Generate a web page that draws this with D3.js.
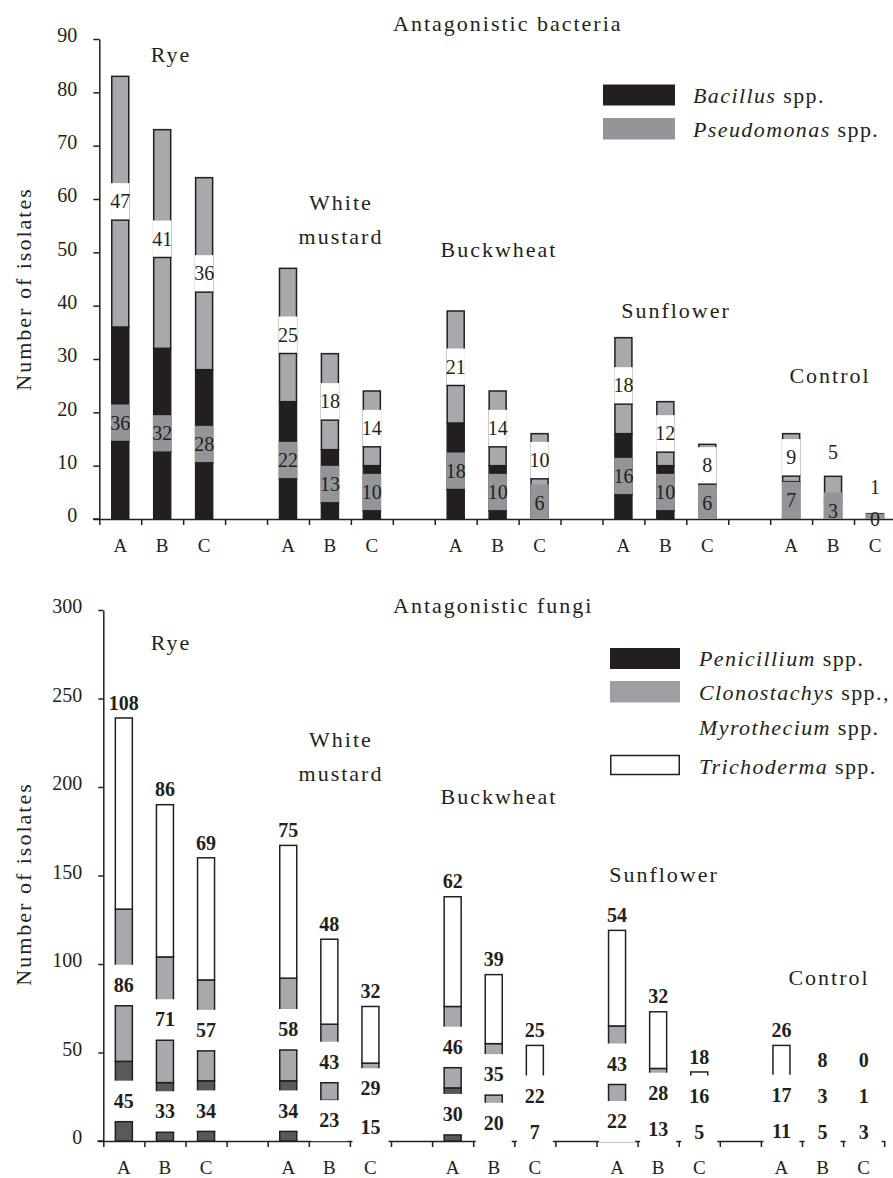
<!DOCTYPE html>
<html>
<head>
<meta charset="utf-8">
<script src="https://cdn.jsdelivr.net/npm/d3@7"></script>
<style>
  body { margin: 0; background: #fff; }
  text { font-family: 'Liberation Serif', 'Times New Roman', serif; fill: #231f20; }
  .big { font-size: 22px; letter-spacing: 2px; }
  .leg { font-size: 22px; letter-spacing: 1.4px; }
  .num { font-size: 20px; }
  .bold { font-weight: bold; }
  .cat { font-size: 19px; }
</style>
</head>
<body>
<div id="chart"></div>
<script>
// data
const groups = ["Rye", "White mustard", "Buckwheat", "Sunflower", "Control"];
const treatments = ["A", "B", "C"];

const bacillus     = [36, 32, 28, 22, 13, 10, 18, 10, 6, 16, 10, 6, 7, 3, 0];
const pseudomonas  = [47, 41, 36, 25, 18, 14, 21, 14, 10, 18, 12, 8, 9, 5, 1];

const penicillium  = [45, 33, 34, 34, 23, 15, 30, 20, 7, 22, 13, 5, 11, 5, 3];
const clonostachys = [86, 71, 57, 58, 43, 29, 46, 35, 22, 43, 28, 16, 17, 3, 1];
const trichoderma  = [108, 86, 69, 75, 48, 32, 62, 39, 25, 54, 32, 18, 26, 8, 0];

const yTicksBacteria = [0, 10, 20, 30, 40, 50, 60, 70, 80, 90];
const yTicksFungi = [0, 50, 100, 150, 200, 250, 300];

const ink = "#231f20";

const svg = d3.select("#chart")
    .append("svg")
    .attr("width", 893)
    .attr("height", 1178);

// one slot per bar, an empty slot between groups
const slots = [];
groups.forEach((g, gi) => {
    treatments.forEach(t => slots.push(g + "|" + t));
    if (gi < groups.length - 1) slots.push(g + "|gap");
});
const slotOf = i => groups[Math.floor(i / 3)] + "|" + treatments[i % 3];

function drawFrame(opt) {
    const x = d3.scaleBand().domain(slots).range([opt.x0, opt.x1]);
    const xi = d3.scaleLinear().domain([0, slots.length]).range([opt.x0, opt.x1]);
    const y = d3.scaleLinear().domain([0, opt.yMax]).range([opt.base, opt.top]);

    // x axis: ticks at slot boundaries
    svg.append("line")
        .attr("x1", opt.axisStart).attr("x2", opt.x0)
        .attr("y1", opt.base).attr("y2", opt.base)
        .attr("stroke", ink).attr("stroke-width", 1.5);
    svg.append("g")
        .attr("transform", `translate(0, ${opt.base})`)
        .style("color", ink)
        .call(d3.axisBottom(xi).tickValues(d3.range(slots.length + 1)).tickSize(6).tickSizeOuter(0).tickFormat(""))
        .call(a => a.selectAll("path, line").attr("stroke-width", 1.5));

    // treatment letters
    svg.append("g")
        .attr("transform", `translate(0, ${opt.catY})`)
        .call(d3.axisBottom(x).tickSize(0).tickFormat(s => s.endsWith("gap") ? "" : s.split("|")[1]))
        .call(a => a.select(".domain").remove())
        .call(a => a.selectAll("text").attr("class", "cat").attr("dy", null).attr("y", 0).attr("fill", null));

    // y axis
    svg.append("g")
        .attr("transform", `translate(${opt.x0}, 0)`)
        .style("color", ink)
        .call(d3.axisLeft(y).tickValues(opt.yTicks).tickSize(opt.yTickSize).tickSizeOuter(0).tickPadding(opt.tickPad))
        .call(a => a.selectAll("path, line").attr("stroke-width", 1.5))
        .call(a => a.selectAll("text").attr("class", "num").attr("dy", "0.14em").attr("fill", null));

    // axis title
    svg.append("text")
        .attr("class", "big")
        .attr("transform", `translate(31, ${opt.titleYMid}) rotate(-90)`)
        .attr("text-anchor", "middle")
        .text("Number of isolates");

    return { x, y };
}

// draws label boxes, the rule under each box and the numbers
function drawLabels(x, base, bw, bars, boxW, boxH, clip, bold) {
    const boxes = svg.append("g"), rules = svg.append("g"), nums = svg.append("g");
    bars.forEach(b => {
        const spans = b.labels.filter(l => l.box).map(l => {
            let lo = l.p - boxH / 2, hi = l.p + boxH / 2;
            if (clip) { lo = Math.max(lo, 0); hi = Math.min(hi, b.top); }
            return { lo, hi, fill: l.box };
        }).filter(s => s.hi > s.lo);
        spans.forEach(s => {
            const w = boxW || bw + 1.5;
            boxes.append("rect")
                .attr("x", b.cx - w / 2).attr("width", w)
                .attr("y", base - s.hi).attr("height", s.hi - s.lo)
                .attr("fill", s.fill);
        });
        spans.forEach(s => {
            const covered = spans.some(o => o !== s && s.lo > o.lo && s.lo < o.hi);
            if (s.lo > 1 && s.lo < b.top - 1 && !covered) {
                rules.append("line")
                    .attr("x1", b.cx - bw / 2 - 0.75).attr("x2", b.cx + bw / 2 + 0.75)
                    .attr("y1", base - s.lo).attr("y2", base - s.lo)
                    .attr("stroke", ink).attr("stroke-width", 1.5);
            }
        });
        b.labels.forEach(l => {
            nums.append("text")
                .attr("class", bold ? "num bold" : "num")
                .attr("x", b.cx).attr("y", base - l.p + 6.7)
                .attr("text-anchor", "middle")
                .text(l.text);
        });
    });
}

function groupLabels(pos) {
    groups.forEach((g, i) => {
        const lines = g.split(" ");
        lines.forEach((t, j) => {
            svg.append("text")
                .attr("class", "big")
                .attr("x", pos[i][0] + 1)
                .attr("y", pos[i][1] + j * 34)
                .attr("text-anchor", "middle")
                .text(t);
        });
    });
}

function legendText(x, y, italic, rest) {
    const t = svg.append("text").attr("class", "leg").attr("x", x).attr("y", y);
    t.append("tspan").style("font-style", "italic").text(italic);
    if (rest) t.append("tspan").text(rest);
}

const barW = 17;

// ---------------- antagonistic bacteria ----------------
{
    const base = 519;
    const { x, y } = drawFrame({
        x0: 99.3, x1: 99.3 + 19 * 41.93, axisStart: 93, base: base, top: 39, yMax: 90,
        yTicks: yTicksBacteria, yTickSize: 6, tickPad: 16, catY: 551.5, titleYMid: 289
    });
    const rows = bacillus.map((v, i) => ({ slot: slotOf(i), bacillus: v, pseudomonas: pseudomonas[i] }));
    const stacked = d3.stack().keys(["bacillus", "pseudomonas"])(rows);
    const fills = { bacillus: ink, pseudomonas: "#a7a9ac" };

    svg.append("g")
        .selectAll("g")
        .data(stacked)
        .join("g")
        .attr("fill", d => fills[d.key])
        .selectAll("rect")
        .data(d => d)
        .join("rect")
        .attr("x", d => x(d.data.slot) + x.bandwidth() / 2 - barW / 2)
        .attr("width", barW)
        .attr("y", d => y(d[1]))
        .attr("height", d => y(d[0]) - y(d[1]))
        .attr("stroke", ink)
        .attr("stroke-width", 1.5);

    const hpx = v => base - y(v);
    const bars = rows.map(r => {
        const top = hpx(r.bacillus + r.pseudomonas);
        const p1 = Math.max(hpx(r.bacillus) / 2, 0);
        let p2 = hpx(r.pseudomonas) >= 37 ? hpx(r.bacillus) + hpx(r.pseudomonas) / 2 : top + 24;
        p2 = Math.max(p2, p1 + 32);
        return {
            cx: x(r.slot) + x.bandwidth() / 2, top,
            labels: [
                { p: p1, text: r.bacillus, box: "#939598" },
                { p: p2, text: r.pseudomonas, box: "#fff" }
            ]
        };
    });
    drawLabels(x, base, barW, bars, null, 37, true, false);

    svg.append("text").attr("class", "big").attr("x", 393).attr("y", 31).text("Antagonistic bacteria");
    groupLabels([[170, 62], [340, 210], [498, 257], [675, 318], [829, 383]]);

    svg.append("rect").attr("x", 603).attr("y", 84.5).attr("width", 72).attr("height", 21).attr("fill", ink);
    svg.append("rect").attr("x", 603).attr("y", 118).attr("width", 72).attr("height", 21.5).attr("fill", "#939598");
    legendText(693, 103, "Bacillus", " spp.");
    legendText(693, 137, "Pseudomonas", " spp.");
}

// ---------------- antagonistic fungi ----------------
{
    const base = 1141;
    const { x, y } = drawFrame({
        x0: 103.3, x1: 103.3 + 19 * 41.1, axisStart: 97.3, base: base, top: 610, yMax: 300,
        yTicks: yTicksFungi, yTickSize: 5, tickPad: 16, catY: 1174, titleYMid: 884
    });
    const rows = penicillium.map((v, i) => ({
        slot: slotOf(i), penicillium: v, clonostachys: clonostachys[i], trichoderma: trichoderma[i]
    }));
    const stacked = d3.stack().keys(["penicillium", "clonostachys", "trichoderma"])(rows);
    const fills = { penicillium: "#58595b", clonostachys: "#a7a9ac", trichoderma: "#fff" };

    svg.append("g")
        .selectAll("g")
        .data(stacked)
        .join("g")
        .attr("fill", d => fills[d.key])
        .selectAll("rect")
        .data(d => d)
        .join("rect")
        .attr("x", d => x(d.data.slot) + x.bandwidth() / 2 - barW / 2)
        .attr("width", barW)
        .attr("y", d => y(d[1]))
        .attr("height", d => y(d[0]) - y(d[1]))
        .attr("stroke", ink)
        .attr("stroke-width", 1.5);

    const hpx = v => base - y(v);
    const bars = rows.map(r => {
        const top = hpx(r.penicillium + r.clonostachys + r.trichoderma);
        const p1 = Math.max(hpx(r.penicillium) / 2, 9);
        const p2 = Math.max(hpx(r.penicillium) + hpx(r.clonostachys) / 2, p1 + 36);
        const p3 = Math.max(top + 15, p2 + 36);
        return {
            cx: x(r.slot) + x.bandwidth() / 2, top,
            labels: [
                { p: p1, text: r.penicillium, box: "#fff" },
                { p: p2, text: r.clonostachys, box: "#fff" },
                { p: p3, text: r.trichoderma, box: null }
            ]
        };
    });
    drawLabels(x, base, barW, bars, 36, 41, false, true);

    svg.append("text").attr("class", "big").attr("x", 393).attr("y", 613).text("Antagonistic fungi");
    groupLabels([[170, 650], [340, 747], [498, 804], [663, 882], [828, 985]]);

    svg.append("rect").attr("x", 610).attr("y", 648).attr("width", 70).attr("height", 21).attr("fill", ink);
    svg.append("rect").attr("x", 610).attr("y", 681).attr("width", 70).attr("height", 21.5).attr("fill", "#9d9fa2");
    svg.append("rect").attr("x", 610.75).attr("y", 755.5).attr("width", 68.5).attr("height", 19)
        .attr("fill", "#fff").attr("stroke", ink).attr("stroke-width", 1.5);
    legendText(699, 666, "Penicillium", " spp.");
    legendText(699, 700, "Clonostachys", " spp.,");
    legendText(699, 734.5, "Myrothecium", " spp.");
    legendText(699, 773.7, "Trichoderma", " spp.");
}
</script>
</body>
</html>
